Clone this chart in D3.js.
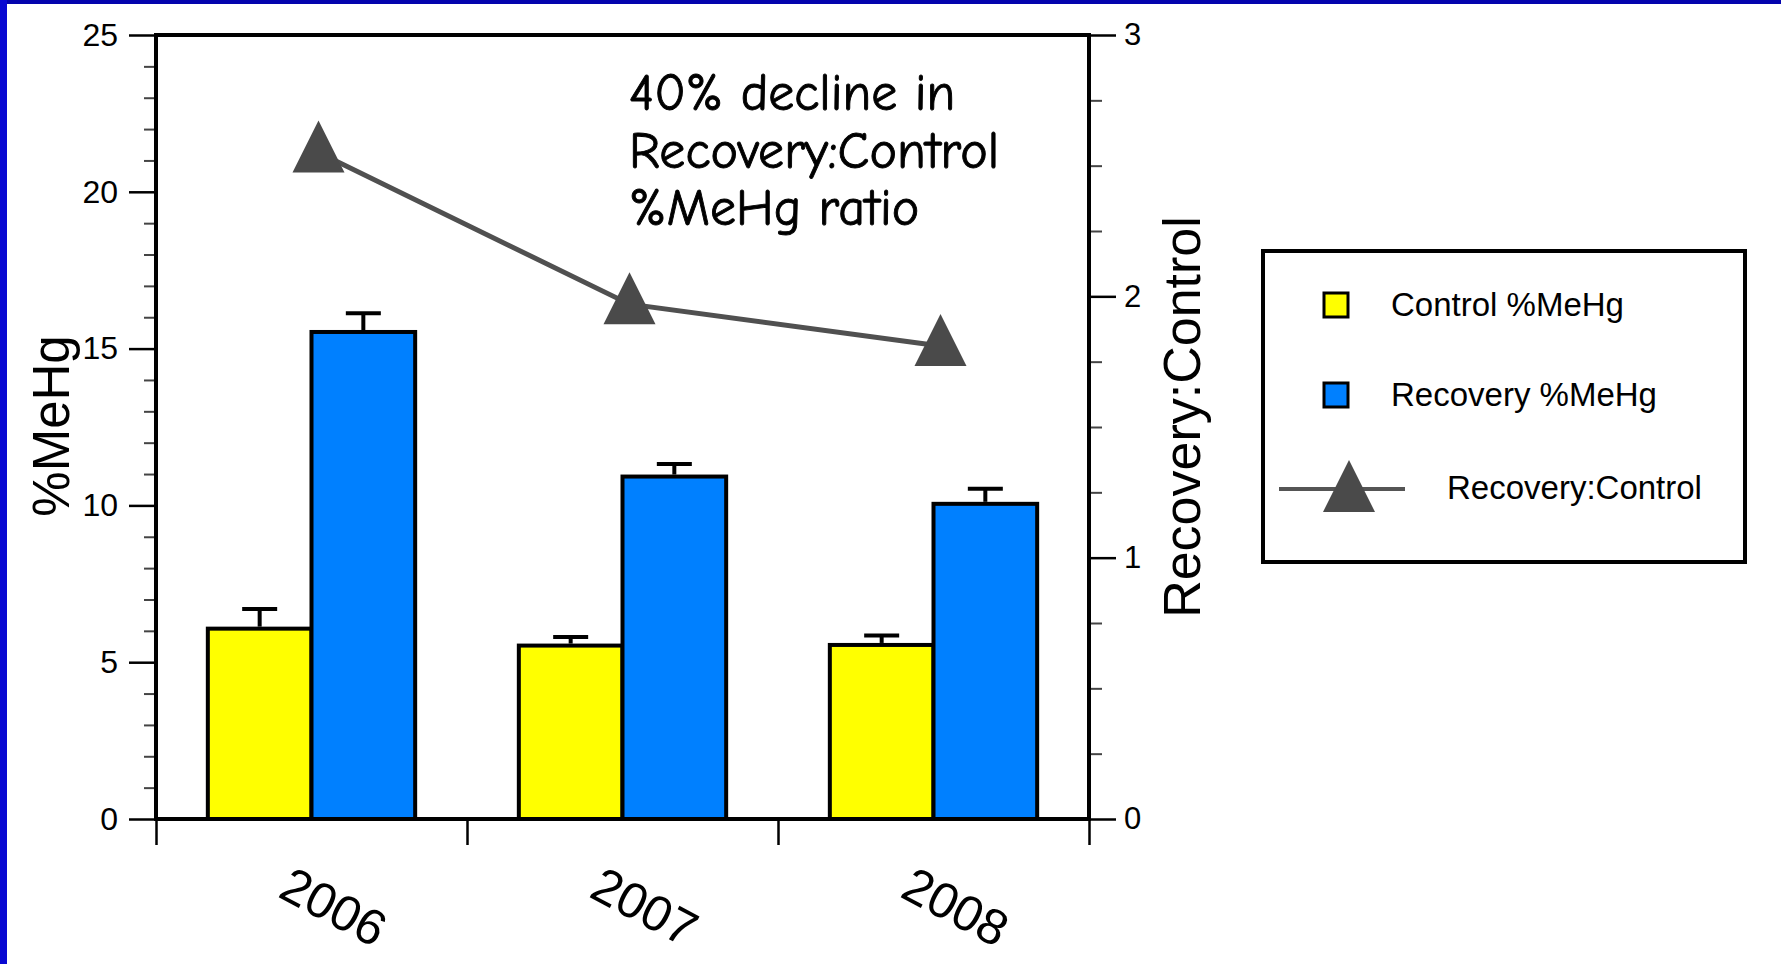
<!DOCTYPE html>
<html>
<head>
<meta charset="utf-8">
<script src="https://cdn.jsdelivr.net/npm/d3@7"></script>
<style>
  body { margin: 0; background: #fff; }
  svg { display: block; font-family: "Liberation Sans", Arial, sans-serif; }
</style>
</head>
<body>
<svg id="chart" width="1781" height="964"></svg>
<script>
// data
const years = ["2006", "2007", "2008"];
const seriesNames = ["Control %MeHg", "Recovery %MeHg"];
const controlMeHg = [6.07, 5.53, 5.55];
const controlErr = [0.63, 0.27, 0.30];
const recoveryMeHg = [15.53, 10.92, 10.05];
const recoveryErr = [0.60, 0.40, 0.48];
const ratioValues = [2.55, 1.97, 1.81];
const leftTicks = [0, 5, 10, 15, 20, 25];
const rightTicks = [0, 1, 2, 3];
const noteLines = ["40% decline in", "Recovery:Control", "%MeHg ratio"];

const svg = d3.select("#chart");
const W = 1781, H = 964;

// slide frame (blue edges)
svg.append("rect").attr("width", W).attr("height", H).attr("fill", "#ffffff");
svg.append("rect").attr("x", 0).attr("y", 0).attr("width", W).attr("height", 4).attr("fill", "#0303ad");
svg.append("rect").attr("x", 0).attr("y", 0).attr("width", 7).attr("height", H).attr("fill", "#0808d2");

const plot = { left: 156, right: 1089, top: 35, bottom: 819 };

// scales
const x0 = d3.scaleBand().domain(years).range([plot.left, plot.right]).padding(0);
const x1 = d3.scaleBand().domain(seriesNames).range([0, x0.bandwidth()]).paddingInner(0).paddingOuter(0.5);
const yLeft = d3.scaleLinear().domain([0, 25]).range([plot.bottom, plot.top]);
const yRight = d3.scaleLinear().domain([0, 3]).range([plot.bottom, plot.top]);
const xEdges = d3.scaleLinear().domain([0, years.length]).range([plot.left, plot.right]);

const colors = { "Control %MeHg": "#ffff00", "Recovery %MeHg": "#0080ff" };

const barData = [];
years.forEach((yr, i) => {
  barData.push({ year: yr, series: seriesNames[0], value: controlMeHg[i], err: controlErr[i] });
  barData.push({ year: yr, series: seriesNames[1], value: recoveryMeHg[i], err: recoveryErr[i] });
});

// bars
svg.append("g").selectAll("rect")
  .data(barData)
  .join("rect")
  .attr("x", d => x0(d.year) + x1(d.series))
  .attr("y", d => yLeft(d.value))
  .attr("width", x1.bandwidth())
  .attr("height", d => yLeft(0) - yLeft(d.value))
  .attr("fill", d => colors[d.series])
  .attr("stroke", "#000")
  .attr("stroke-width", 4);

// error bars (upper only)
const errG = svg.append("g").attr("stroke", "#000").attr("stroke-width", 4);
barData.forEach(d => {
  const cx = x0(d.year) + x1(d.series) + x1.bandwidth() / 2;
  errG.append("line")
    .attr("x1", cx).attr("x2", cx)
    .attr("y1", yLeft(d.value) - 2).attr("y2", yLeft(d.value + d.err));
  errG.append("line")
    .attr("x1", cx - 17.5).attr("x2", cx + 17.5)
    .attr("y1", yLeft(d.value + d.err)).attr("y2", yLeft(d.value + d.err));
});

// left axis: major + minor ticks
const leftMajor = svg.append("g")
  .attr("transform", `translate(${plot.left},0)`)
  .call(d3.axisLeft(yLeft).tickValues(leftTicks).tickSize(27).tickPadding(11).tickFormat(d3.format("d")));
leftMajor.select(".domain").remove();
leftMajor.selectAll(".tick line").attr("stroke-width", 2.5);
leftMajor.selectAll(".tick text").attr("font-size", 32).attr("fill", "#000")
  .attr("font-family", "Liberation Sans, Arial, sans-serif");

const leftMinor = svg.append("g")
  .attr("transform", `translate(${plot.left},0)`)
  .call(d3.axisLeft(yLeft).tickValues(d3.range(0, 26).filter(v => v % 5 !== 0)).tickSize(12).tickFormat(""));
leftMinor.select(".domain").remove();
leftMinor.selectAll(".tick line").attr("stroke", "#444").attr("stroke-width", 2);

// right axis: major + minor ticks
const rightMajor = svg.append("g")
  .attr("transform", `translate(${plot.right},0)`)
  .call(d3.axisRight(yRight).tickValues(rightTicks).tickSize(27).tickPadding(8).tickFormat(d3.format("d")));
rightMajor.select(".domain").remove();
rightMajor.selectAll(".tick line").attr("stroke-width", 2.5);
rightMajor.selectAll(".tick text").attr("font-size", 31).attr("fill", "#000")
  .attr("font-family", "Liberation Sans, Arial, sans-serif");

const rightMinor = svg.append("g")
  .attr("transform", `translate(${plot.right},0)`)
  .call(d3.axisRight(yRight).tickValues(d3.range(0, 3, 0.25).filter(v => v % 1 !== 0)).tickSize(13).tickFormat(""));
rightMinor.select(".domain").remove();
rightMinor.selectAll(".tick line").attr("stroke", "#444").attr("stroke-width", 2);

// bottom ticks at group edges
const bottomAxis = svg.append("g")
  .attr("transform", `translate(0,${plot.bottom})`)
  .call(d3.axisBottom(xEdges).tickValues(d3.range(0, years.length + 1)).tickSize(26).tickFormat(""));
bottomAxis.select(".domain").remove();
bottomAxis.selectAll(".tick line").attr("stroke-width", 2.5);

// frame lines
const frame = svg.append("g").attr("stroke", "#000").attr("stroke-width", 4).attr("fill", "none");
frame.append("path").attr("d", `M${plot.left},${plot.bottom}V${plot.top}H${plot.right}V${plot.bottom}`);
frame.append("line").attr("x1", plot.left - 2).attr("x2", plot.right + 2)
  .attr("y1", plot.bottom).attr("y2", plot.bottom);

// year labels (rotated)
svg.append("g").selectAll("text")
  .data(years)
  .join("text")
  .attr("transform", d => `translate(${x0(d) + x0.bandwidth() / 2 + 22},907) rotate(28)`)
  .attr("text-anchor", "middle")
  .attr("dominant-baseline", "central")
  .attr("font-size", 50)
  .attr("fill", "#000")
  .text(d => d);

// axis titles
svg.append("text")
  .attr("transform", "translate(69,426) rotate(-90)")
  .attr("text-anchor", "middle")
  .attr("font-size", 51)
  .text("%MeHg");

svg.append("text")
  .attr("transform", "translate(1200,417) rotate(-90)")
  .attr("text-anchor", "middle")
  .attr("font-size", 52)
  .text("Recovery:Control");

// ratio line with triangles
const triPath = "M0,-32L26,20L-26,20Z";
const ratioPts = years.map((yr, i) => ({ x: x0(yr) + x0.bandwidth() / 2 + 7, y: yRight(ratioValues[i]) }));

svg.append("path")
  .datum(ratioPts)
  .attr("fill", "none")
  .attr("stroke", "#505050")
  .attr("stroke-width", 5)
  .attr("d", d3.line().x(d => d.x).y(d => d.y));

svg.append("g").selectAll("path")
  .data(ratioPts)
  .join("path")
  .attr("transform", d => `translate(${d.x},${d.y})`)
  .attr("d", triPath)
  .attr("fill", "#4a4a4a");

// annotation
svg.append("g").selectAll("text")
  .data(noteLines)
  .join("text")
  .attr("x", 629)
  .attr("y", (d, i) => 110 + i * 57.5)
  .attr("font-family", "'Comic Sans MS', 'Comic Neue', Lato, sans-serif")
  .attr("font-size", 52)
  .attr("fill", "#000")
  .attr("stroke", "#000")
  .attr("stroke-width", 0.9)
  .text(d => d);

// legend
const legend = svg.append("g");
legend.append("rect")
  .attr("x", 1263).attr("y", 251).attr("width", 482).attr("height", 311)
  .attr("fill", "#fff").attr("stroke", "#000").attr("stroke-width", 4);

seriesNames.forEach((name, i) => {
  const cy = 305 + i * 90;
  legend.append("rect")
    .attr("x", 1324).attr("y", cy - 12).attr("width", 24).attr("height", 24)
    .attr("fill", colors[name]).attr("stroke", "#000").attr("stroke-width", 3);
  legend.append("text")
    .attr("x", 1391).attr("y", cy + 11)
    .attr("font-size", 33)
    .text(name);
});

legend.append("line")
  .attr("x1", 1279).attr("x2", 1405).attr("y1", 489).attr("y2", 489)
  .attr("stroke", "#555").attr("stroke-width", 4);
legend.append("path")
  .attr("transform", "translate(1349,492)")
  .attr("d", triPath)
  .attr("fill", "#4a4a4a");
legend.append("text")
  .attr("x", 1447).attr("y", 499)
  .attr("font-size", 33)
  .text("Recovery:Control");
</script>
</body>
</html>
